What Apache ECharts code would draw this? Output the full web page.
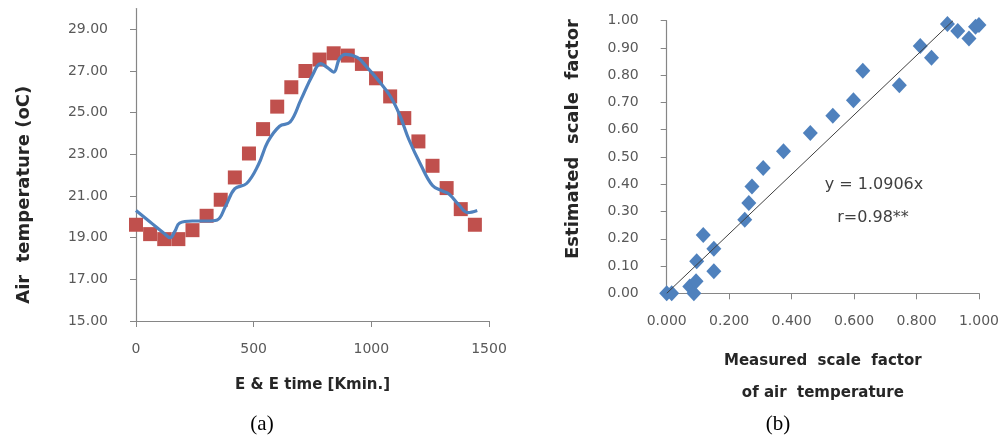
<!DOCTYPE html>
<html lang="en">
<head>
  <meta charset="UTF-8">
  <script src="https://cdn.jsdelivr.net/npm/echarts@6/dist/echarts.min.js"></script>
  <style>
    body { margin: 0; background: #fff; }
    #main { width: 1002px; height: 440px; }
  </style>
  <title>Air temperature</title>
</head>
<body>
  <div id="main"></div>
  <script>
    // (a) measured air temperature (squares) and simulated curve (line)
    const timeSteps = [0, 60, 120, 180, 240, 300, 360, 420, 480, 540, 600, 660, 720,
      780, 840, 900, 960, 1020, 1080, 1140, 1200, 1260, 1320, 1380, 1440];
    const measuredTemp = [19.62, 19.17, 18.93, 18.93, 19.36, 20.05, 20.82, 21.89, 23.04, 24.21,
      25.29, 26.22, 27.0, 27.55, 27.85, 27.74, 27.34, 26.65, 25.78, 24.74, 23.62, 22.45, 21.38,
      20.37, 19.62];
    const curveTime = [0, 60, 120, 145, 165, 185, 240, 300, 345, 380, 420, 470, 520, 560, 610,
      655, 700, 750, 785, 815, 840, 865, 890, 940, 980, 1030, 1080, 1120, 1160, 1210, 1260,
      1300, 1330, 1370, 1410, 1450];
    const curveTemp = [20.3, 19.75, 19.2, 19.0, 19.3, 19.7, 19.8, 19.8, 19.85, 20.5, 21.35, 21.6,
      22.5, 23.6, 24.35, 24.55, 25.6, 26.8, 27.35, 27.15, 26.95, 27.6, 27.8, 27.65, 27.2, 26.55,
      25.8, 24.9, 23.7, 22.5, 21.5, 21.25, 21.1, 20.6, 20.2, 20.3];
    const tempTicks = [15, 17, 19, 21, 23, 25, 27, 29];

    // (b) measured vs estimated scale factor
    const measuredFactor = [0.0, 0.016, 0.074, 0.087, 0.094, 0.096, 0.117, 0.151, 0.151, 0.25,
      0.263, 0.273, 0.309, 0.374, 0.46, 0.532, 0.598, 0.628, 0.745, 0.812, 0.848, 0.899, 0.932,
      0.968, 0.989, 1.0];
    const estimatedFactor = [0.0, 0.0, 0.025, 0.0, 0.044, 0.118, 0.214, 0.163, 0.081, 0.27,
      0.331, 0.392, 0.46, 0.521, 0.588, 0.651, 0.708, 0.816, 0.763, 0.907, 0.864, 0.988, 0.962,
      0.935, 0.978, 0.984];
    const slope = 1.0906;

    const tickFont = { fontFamily: 'DejaVu Sans', fontSize: 14, color: '#595959' };
    const titleFont = { fontFamily: 'DejaVu Sans', fontWeight: 'bold', color: '#262626' };
    const axisLine = { show: true, lineStyle: { color: '#868686', width: 1.2 } };
    const axisTick = { show: true, length: 6, lineStyle: { color: '#868686' } };

    function label(text, x, y, font, size, fill) {
      return { type: 'text', x, y, style: { text, fontFamily: font, fontSize: size, fill,
        align: 'center', verticalAlign: 'middle' } };
    }

    const chart = echarts.init(document.getElementById('main'));
    chart.setOption({
      animation: false,
      grid: [
        { left: 136, top: 8.5, width: 353, height: 312.5 },
        { left: 666.7, top: 20.7, width: 313.3, height: 272.6 }
      ],
      xAxis: [
        {
          gridIndex: 0, type: 'value', min: 0, max: 1500, interval: 500,
          name: 'E & E time [Kmin.]', nameLocation: 'middle', nameGap: 57,
          nameTextStyle: Object.assign({ fontSize: 15 }, titleFont),
          axisLine, axisTick, splitLine: { show: false },
          axisLabel: Object.assign({ margin: 21, formatter: v => String(v) }, tickFont)
        },
        {
          gridIndex: 1, type: 'value', min: 0, max: 1, interval: 0.2,
          name: 'Measured  scale  factor\nof air  temperature', nameLocation: 'middle', nameGap: 52,
          nameTextStyle: Object.assign({ fontSize: 15, lineHeight: 32 }, titleFont),
          axisLine, axisTick, splitLine: { show: false },
          axisLabel: Object.assign({ margin: 21, formatter: v => v.toFixed(3) }, tickFont)
        }
      ],
      yAxis: [
        {
          gridIndex: 0, type: 'value', min: 15, max: 30, interval: 2,
          name: 'Air  temperature (oC)', nameLocation: 'middle', nameGap: 103,
          nameTextStyle: Object.assign({ fontSize: 18, padding: [0, 60, 0, 0] }, titleFont),
          axisLine, axisTick: Object.assign({ customValues: tempTicks }, axisTick),
          splitLine: { show: false },
          axisLabel: Object.assign({ margin: 28, customValues: tempTicks, formatter: v => v.toFixed(2) }, tickFont)
        },
        {
          gridIndex: 1, type: 'value', min: 0, max: 1, interval: 0.1,
          name: 'Estimated  scale  factor', nameLocation: 'middle', nameGap: 84,
          nameTextStyle: Object.assign({ fontSize: 18, padding: [0, 0, 0, 36] }, titleFont),
          axisLine, axisTick, splitLine: { show: false },
          axisLabel: Object.assign({ margin: 28, formatter: v => v.toFixed(2) }, tickFont)
        }
      ],
      series: [
        {
          type: 'scatter', xAxisIndex: 0, yAxisIndex: 0, symbol: 'rect', symbolSize: 14,
          itemStyle: { color: '#C0504D', opacity: 1 },
          data: timeSteps.map((t, i) => [t, measuredTemp[i]])
        },
        {
          type: 'line', xAxisIndex: 0, yAxisIndex: 0, smooth: 0.4, showSymbol: false, z: 3,
          lineStyle: { color: '#4F81BD', width: 3.2 },
          data: curveTime.map((t, i) => [t, curveTemp[i]])
        },
        {
          type: 'scatter', xAxisIndex: 1, yAxisIndex: 1, symbol: 'diamond', symbolSize: [15, 16],
          itemStyle: { color: '#4F81BD', opacity: 1 },
          data: measuredFactor.map((m, i) => [m, estimatedFactor[i]])
        },
        {
          type: 'line', xAxisIndex: 1, yAxisIndex: 1, showSymbol: false, z: 3,
          lineStyle: { color: '#404040', width: 1 },
          data: [[0, 0], [1 / slope, 1]]
        }
      ],
      graphic: [
        label('y = ' + slope + 'x', 874, 185, 'DejaVu Sans', 16, '#404040'),
        label('r=0.98**', 873, 218, 'DejaVu Sans', 16, '#404040'),
        label('(a)', 262, 424, 'Liberation Serif', 21, '#000'),
        label('(b)', 778, 424, 'Liberation Serif', 21, '#000')
      ]
    });
  </script>
</body>
</html>
